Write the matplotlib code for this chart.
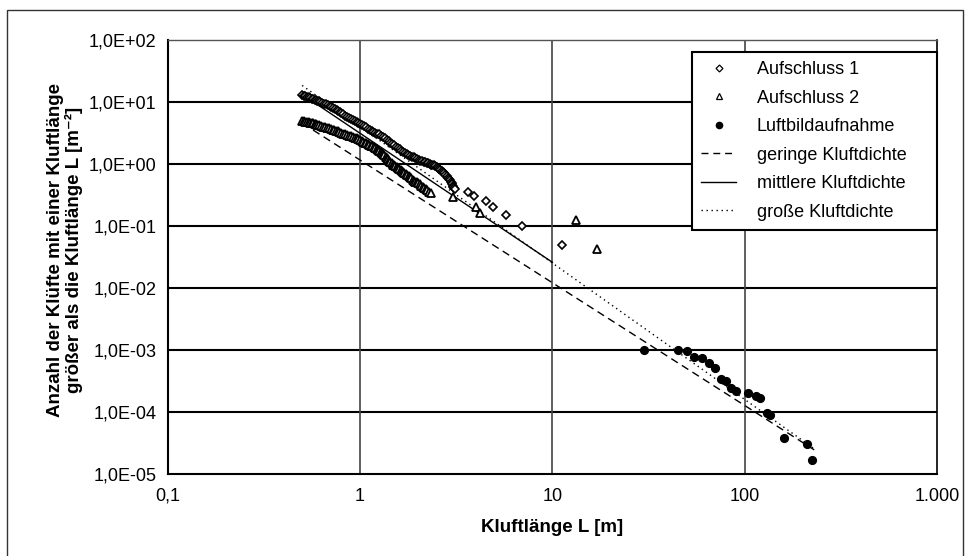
import matplotlib
matplotlib.use("Agg")
import matplotlib.pyplot as plt
from matplotlib.lines import Line2D
from matplotlib.patches import Rectangle

plt.rcParams['font.family'] = ['Liberation Sans', 'DejaVu Sans']

# ---------------- data ----------------
a1_L = [0.50, 0.51, 0.52, 0.53, 0.54, 0.55, 0.56, 0.57, 0.58, 0.59, 0.60, 0.61, 0.62,
        0.635, 0.65, 0.665, 0.68, 0.695, 0.71, 0.725, 0.74, 0.755, 0.77, 0.785, 0.80,
        0.82, 0.84, 0.86, 0.88, 0.90, 0.92, 0.94, 0.96, 0.98, 1.00, 1.025, 1.05, 1.075,
        1.10, 1.125, 1.15, 1.175, 1.20, 1.23, 1.26, 1.29, 1.32, 1.35, 1.38, 1.41, 1.44,
        1.47, 1.50, 1.535, 1.57, 1.605, 1.64, 1.675, 1.71, 1.745, 1.78, 1.82, 1.86, 1.90,
        1.94, 1.98, 2.02, 2.06, 2.10, 2.14, 2.18, 2.22, 2.26, 2.30, 2.34, 2.38, 2.42,
        2.46, 2.50, 2.54, 2.58, 2.62, 2.66, 2.70, 2.74, 2.78, 2.82, 2.86, 2.90, 2.93,
        2.96, 2.99, 3.02, 3.04, 3.06, 3.08, 3.10,
        3.63, 3.93, 4.52, 4.93, 5.74, 6.93, 11.2]
a1_N = [13.0, 12.7, 12.4, 12.1, 11.9, 11.6, 11.3, 11.05, 10.8, 10.6, 10.4, 10.2, 10.0,
        9.7, 9.4, 9.15, 8.9, 8.55, 8.2, 7.9, 7.6, 7.35, 7.1, 6.85, 6.6,
        6.3, 6.0, 5.75, 5.5, 5.3, 5.1, 4.95, 4.8, 4.65, 4.5, 4.3, 4.1, 3.9,
        3.7, 3.55, 3.4, 3.3, 3.2, 3.1, 3.0, 2.88, 2.75, 2.6, 2.45, 2.32, 2.2,
        2.1, 2.0, 1.9, 1.8, 1.72, 1.65, 1.59, 1.53, 1.47, 1.42, 1.37, 1.32, 1.28,
        1.24, 1.20, 1.16, 1.13, 1.10, 1.08, 1.06, 1.04, 1.02, 1.00, 0.98, 0.965, 0.95,
        0.925, 0.90, 0.87, 0.84, 0.805, 0.77, 0.74, 0.71, 0.675, 0.64, 0.605, 0.57, 0.545,
        0.52, 0.495, 0.47, 0.45, 0.43, 0.415, 0.40,
        0.35, 0.30, 0.25, 0.20, 0.15, 0.10, 0.05]

a2_L = [0.50, 0.51, 0.52, 0.53, 0.54, 0.55, 0.56, 0.57, 0.58, 0.59, 0.60, 0.615, 0.63,
        0.645, 0.66, 0.675, 0.69, 0.705, 0.72, 0.735, 0.75, 0.765, 0.78, 0.80, 0.82,
        0.84, 0.86, 0.88, 0.90, 0.92, 0.94, 0.96, 0.98, 1.00, 1.02, 1.04, 1.06, 1.08,
        1.10, 1.12, 1.14, 1.16, 1.18, 1.20, 1.22, 1.24, 1.26, 1.28, 1.30, 1.32, 1.34,
        1.36, 1.38, 1.40, 1.42, 1.44, 1.46, 1.48, 1.50, 1.525, 1.55, 1.575, 1.60, 1.625,
        1.65, 1.675, 1.70, 1.73, 1.76, 1.79, 1.82, 1.85, 1.88, 1.91, 1.94, 1.97, 2.00,
        2.04, 2.08, 2.12, 2.16, 2.20, 2.24, 2.29, 2.34,
        3.03, 4.0, 4.2, 13.3, 17.1]
a2_N = [5.0, 4.9, 4.8, 4.75, 4.7, 4.65, 4.6, 4.52, 4.45, 4.38, 4.3, 4.2, 4.1,
        4.0, 3.9, 3.82, 3.75, 3.68, 3.6, 3.52, 3.45, 3.38, 3.3, 3.2, 3.1,
        3.02, 2.95, 2.88, 2.8, 2.72, 2.65, 2.58, 2.5, 2.42, 2.35, 2.28, 2.2, 2.15,
        2.1, 2.04, 1.98, 1.93, 1.88, 1.82, 1.76, 1.69, 1.62, 1.56, 1.50, 1.44, 1.38,
        1.32, 1.26, 1.19, 1.12, 1.07, 1.02, 0.98, 0.95, 0.915, 0.88, 0.855, 0.83, 0.805,
        0.78, 0.75, 0.72, 0.69, 0.66, 0.635, 0.61, 0.585, 0.56, 0.54, 0.52, 0.505, 0.49,
        0.47, 0.45, 0.43, 0.41, 0.39, 0.375, 0.355, 0.34,
        0.29, 0.20, 0.165, 0.125, 0.042]

lb_L = [30.1, 45.2, 50.0, 54.7, 59.8, 65.0, 70.2, 75.1, 80.0, 84.9, 90.2, 104.5,
        114.6, 120.0, 130.6, 135.5, 160.3, 210.3, 225.0]
lb_N = [1.0e-3, 0.99e-3, 0.98e-3, 7.8e-4, 7.5e-4, 6.1e-4, 5.2e-4, 3.4e-4, 3.2e-4,
        2.4e-4, 2.2e-4, 2.05e-4, 1.8e-4, 1.7e-4, 9.7e-5, 8.9e-5, 3.8e-5, 3.1e-5, 1.7e-5]

geringe_L = [0.57, 230.0]
geringe_N = [3.53, 2.45e-5]
mittlere_L = [0.57, 10.0]
mittlere_N = [10.1, 0.026]
grosse_L = [0.50, 228.0]
grosse_N = [18.5, 2.6e-5]

x_ticks = [0.1, 1, 10, 100, 1000]
x_ticklabels = ['0,1', '1', '10', '100', '1.000']
y_ticks = [1e-5, 1e-4, 1e-3, 1e-2, 1e-1, 1e0, 1e1, 1e2]
y_ticklabels = ['1,0E-05', '1,0E-04', '1,0E-03', '1,0E-02', '1,0E-01',
                '1,0E+00', '1,0E+01', '1,0E+02']

labels = ['Aufschluss 1', 'Aufschluss 2', 'Luftbildaufnahme',
          'geringe Kluftdichte', 'mittlere Kluftdichte', 'große Kluftdichte']

# ---------------- figure ----------------
W, H = 969, 556
fig = plt.figure(figsize=(W / 100, H / 100), dpi=100)
ax = fig.add_axes([167.7 / W, 1 - 474 / H, (937 - 167.7) / W, (474 - 40) / H])

ax.set_xscale('log')
ax.set_yscale('log')
ax.set_xlim(0.1, 1000)
ax.set_ylim(1e-5, 1e2)

# grid
for yv in y_ticks[1:-1]:
    ax.axhline(yv, color='black', lw=1.5, zorder=1)
for xv in x_ticks[1:-1]:
    ax.axvline(xv, color='#444444', lw=1.2, zorder=1)

# lines
ax.plot(geringe_L, geringe_N, color='black', lw=1.0, ls=(0, (5.5, 3.5)), zorder=3)
ax.plot(mittlere_L, mittlere_N, color='black', lw=1.0, ls='-', zorder=3)
ax.plot(grosse_L, grosse_N, color='black', lw=1.0, ls=(0, (1, 2.6)), zorder=3)

# markers
ax.plot(a1_L, a1_N, ls='none', marker='D', ms=4.4, mfc='white', mec='black', mew=1.2, zorder=4)
ax.plot(a2_L, a2_N, ls='none', marker='^', ms=5.8, mfc='white', mec='black', mew=1.3, zorder=4)
ax.plot(lb_L, lb_N, ls='none', marker='o', ms=5.6, mfc='black', mec='black', zorder=4)

ax.set_xticks(x_ticks)
ax.set_xticklabels(x_ticklabels)
ax.set_yticks(y_ticks)
ax.set_yticklabels(y_ticklabels)
ax.minorticks_off()
ax.tick_params(axis='both', length=0, labelsize=13, colors='black')
ax.tick_params(axis='x', pad=10)
ax.tick_params(axis='y', pad=8)

for s in ['left', 'bottom']:
    ax.spines[s].set_color('black')
    ax.spines[s].set_linewidth(1.5)
ax.spines['top'].set_color('#555555')
ax.spines['top'].set_linewidth(1.0)
ax.spines['right'].set_color('black')
ax.spines['right'].set_linewidth(1.2)

ax.set_xlabel('Kluftlänge L [m]', fontsize=13.5, fontweight='bold', labelpad=10)
fig.text(65 / W, 1 - 250 / H,
         'Anzahl der Klüfte mit einer Kluftlänge\ngrößer als die Kluftlänge L [m⁻²]',
         rotation=90, ha='center', va='center', fontsize=13.5, fontweight='bold',
         linespacing=1.05)

handles = [
    Line2D([], [], ls='none', marker='D', ms=3.5, mfc='white', mec='black', mew=0.9),
    Line2D([], [], ls='none', marker='^', ms=4.0, mfc='white', mec='black', mew=0.9),
    Line2D([], [], ls='none', marker='o', ms=4.5, mfc='black', mec='black'),
    Line2D([], [], color='black', lw=1.0, ls=(0, (5, 3.5))),
    Line2D([], [], color='black', lw=1.0, ls='-'),
    Line2D([], [], color='black', lw=1.0, ls=(0, (1, 2.6))),
]
leg_x0 = (692 - 167.7) / 769.3
leg_top = (474 - 52) / 434
leg = ax.legend(handles, labels, loc='upper left',
                bbox_to_anchor=(leg_x0, leg_top - 0.5, 1.0 - leg_x0, 0.5), mode='expand',
                borderaxespad=0, fontsize=13, frameon=True, fancybox=False,
                edgecolor='black', framealpha=1, labelspacing=0.64,
                handlelength=1.95, handletextpad=1.15, borderpad=0.5)
leg.get_frame().set_linewidth(1.5)
leg.set_zorder(10)

# outer chart border
fig.patches.append(Rectangle((7 / W, -0.01), (963 - 7) / W, 1 - 10 / H + 0.01,
                             transform=fig.transFigure, fill=False,
                             edgecolor='#333333', lw=1.0))

fig.savefig('out.png', dpi=100)
